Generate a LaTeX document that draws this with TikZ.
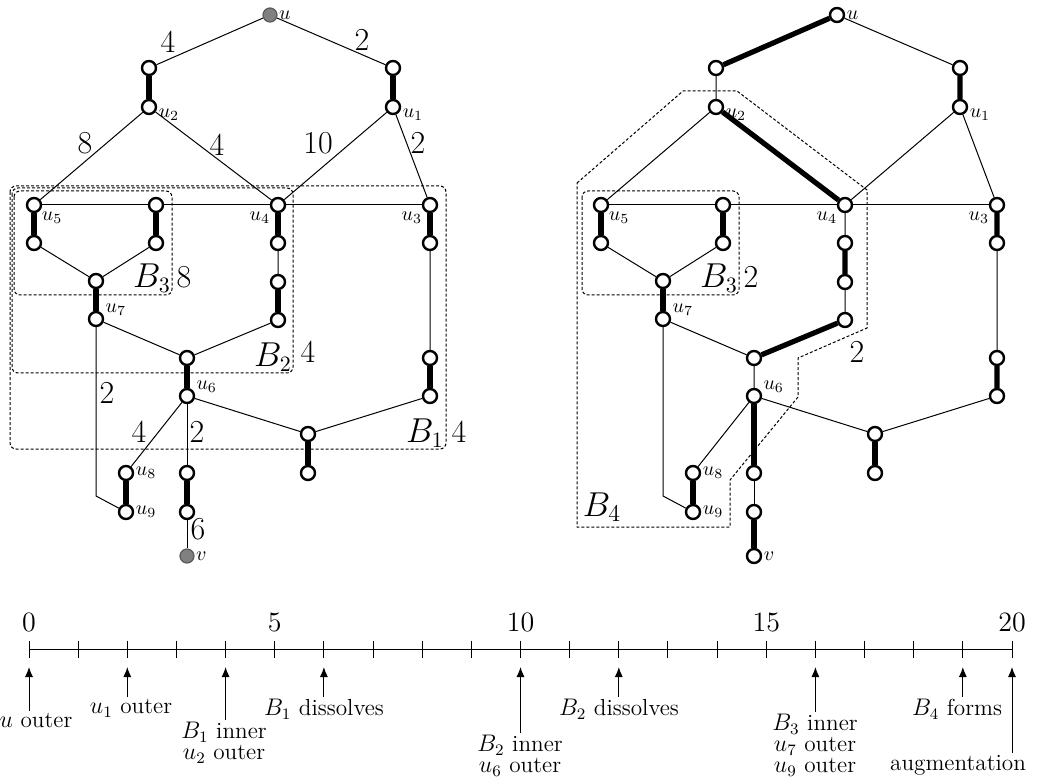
\documentclass[tikz,border=0pt]{standalone}
\usepackage{amsmath}
\usepackage{tikz}
\usetikzlibrary{arrows.meta, calc}

\begin{document}
\begin{tikzpicture}[
  x=0.5pt, y=-0.5pt,
  vtx/.style={circle, draw, fill=white, line width=1.2pt,
              minimum size=7pt, inner sep=0pt},
  src/.style={vtx, fill=black!50, draw=black!65, line width=0.6pt},
  thinedge/.style={line width=0.5pt},
  matched/.style={line width=2.6pt},
  wt/.style={font=\fontsize{16}{18}\selectfont, inner sep=0pt},
  blossom/.style={dash pattern=on 1.5pt off 1pt, line width=0.5pt},
  every label/.style={font=\normalsize, inner sep=0.6pt},
  label distance=0pt,
  tarr/.style={-{Latex[length=5pt, width=4pt]}, line width=0.5pt},
  ev/.style={anchor=north, align=center, inner sep=1pt,
             font=\fontsize{11.6}{10.5}\selectfont},
]
  \useasboundingbox (0,0) rectangle (1038,780);

  % left graph
  \node[src, label={0:$u$}]      (lu)  at (270,15)  {};
  \node[vtx]                     (lp2) at (149,68)  {};
  \node[vtx, label={-5:$u_2$}]   (lu2) at (149,107) {};
  \node[vtx]                     (lp1) at (393,68)  {};
  \node[vtx, label={-5:$u_1$}]   (lu1) at (393,107) {};
  \node[vtx, label={-40:$u_5$}]  (lu5) at (34,205)  {};
  \node[vtx]                     (lq1) at (156,205) {};
  \node[vtx]                     (lq2) at (34,243)  {};
  \node[vtx]                     (lq3) at (156,243) {};
  \node[vtx]                     (lq4) at (96,281)  {};
  \node[vtx, label={10:$u_7$}]   (lu7) at (96,319)  {};
  \node[vtx, label={-140:$u_4$}] (lu4) at (278,205) {};
  \node[vtx]                     (lc1) at (278,243) {};
  \node[vtx]                     (lc2) at (278,282) {};
  \node[vtx]                     (lc3) at (278,320) {};
  \node[vtx]                     (lm)  at (187,358) {};
  \node[vtx, label={15:$u_6$}]   (lu6) at (187,396) {};
  \node[vtx, label={-140:$u_3$}] (lu3) at (430,205) {};
  \node[vtx]                     (ld1) at (430,243) {};
  \node[vtx]                     (ld2) at (430,358) {};
  \node[vtx]                     (ld3) at (430,396) {};
  \node[vtx]                     (le1) at (308,434) {};
  \node[vtx]                     (le2) at (308,473) {};
  \node[vtx, label={0:$u_8$}]    (lu8) at (126,473) {};
  \node[vtx, label={0:$u_9$}]    (lu9) at (126,512) {};
  \node[vtx]                     (lf1) at (187,473) {};
  \node[vtx]                     (lf2) at (187,512) {};
  \node[src, label={0:$v$}]      (lv)  at (187,556) {};
  \coordinate (lk) at (96,496);

  \draw[thinedge] (lu) -- (lp2) (lu) -- (lp1);
  \draw[thinedge] (lu2) -- (lu5) (lu2) -- (lu4) (lu1) -- (lu4) (lu1) -- (lu3);
  \draw[thinedge] (lu5) -- (lq1) (lq1) -- (lu4) (lu4) -- (lu3);
  \draw[thinedge] (lq2) -- (lq4) (lq3) -- (lq4) (lc1) -- (lc2);
  \draw[thinedge] (lu7) -- (lm) (lc3) -- (lm) (ld1) -- (ld2);
  \draw[thinedge] (lu6) -- (le1) (le1) -- (ld3) (lu6) -- (lu8);
  \draw[thinedge] (lu7) -- (lk) -- (lu9);
  \draw[thinedge] (lu6) -- (lf1) (lf2) -- (lv);

  \draw[matched] (lp2) -- (lu2) (lp1) -- (lu1) (lu5) -- (lq2) (lq1) -- (lq3);
  \draw[matched] (lq4) -- (lu7) (lu4) -- (lc1) (lc2) -- (lc3) (lm) -- (lu6);
  \draw[matched] (lu3) -- (ld1) (ld2) -- (ld3) (le1) -- (le2);
  \draw[matched] (lu8) -- (lu9) (lf1) -- (lf2);

  \node[wt] (lw1)  at (168,42)  {4};
  \node[wt] (lw2)  at (362,40)  {2};
  \node[wt] (lw3)  at (85,143)  {8};
  \node[wt] (lw4)  at (217,145) {4};
  \node[wt] (lw5)  at (318,143) {10};
  \node[wt] (lw6)  at (418,143) {2};
  \node[wt] (lw7)  at (107,393) {2};
  \node[wt] (lw8)  at (139,432) {4};
  \node[wt] (lw9)  at (197,432) {2};
  \node[wt] (lw10) at (198,529) {6};

  \draw[blossom, rounded corners=3pt] (10,186) rectangle (446,449);
  \draw[blossom, rounded corners=3pt] (12,188) rectangle (293,373);
  \draw[blossom, rounded corners=3pt] (14,191) rectangle (172,295);
  \node[wt] (lb3)  at (152,278) {$B_3$};
  \node[wt] (lb3z) at (184,277) {8};
  \node[wt] (lb2)  at (273,357) {$B_2$};
  \node[wt] (lb2z) at (308,352) {4};
  \node[wt] (lb1)  at (425,433) {$B_1$};
  \node[wt] (lb1z) at (459,432) {4};

  % right graph
  \node[vtx, label={0:$u$}]      (ru)  at (837,15)  {};
  \node[vtx]                     (rp2) at (716,68)  {};
  \node[vtx, label={-5:$u_2$}]   (ru2) at (716,107) {};
  \node[vtx]                     (rp1) at (960,68)  {};
  \node[vtx, label={-5:$u_1$}]   (ru1) at (960,107) {};
  \node[vtx, label={-40:$u_5$}]  (ru5) at (601,205) {};
  \node[vtx]                     (rq1) at (723,205) {};
  \node[vtx]                     (rq2) at (601,243) {};
  \node[vtx]                     (rq3) at (723,243) {};
  \node[vtx]                     (rq4) at (663,281) {};
  \node[vtx, label={10:$u_7$}]   (ru7) at (663,319) {};
  \node[vtx, label={-140:$u_4$}] (ru4) at (845,205) {};
  \node[vtx]                     (rc1) at (845,243) {};
  \node[vtx]                     (rc2) at (845,282) {};
  \node[vtx]                     (rc3) at (845,320) {};
  \node[vtx]                     (rm)  at (754,358) {};
  \node[vtx, label={15:$u_6$}]   (ru6) at (754,396) {};
  \node[vtx, label={-140:$u_3$}] (ru3) at (997,205) {};
  \node[vtx]                     (rd1) at (997,243) {};
  \node[vtx]                     (rd2) at (997,358) {};
  \node[vtx]                     (rd3) at (997,396) {};
  \node[vtx]                     (re1) at (875,434) {};
  \node[vtx]                     (re2) at (875,473) {};
  \node[vtx, label={0:$u_8$}]    (ru8) at (693,473) {};
  \node[vtx, label={0:$u_9$}]    (ru9) at (693,512) {};
  \node[vtx]                     (rf1) at (754,473) {};
  \node[vtx]                     (rf2) at (754,512) {};
  \node[vtx, label={0:$v$}]      (rv)  at (754,556) {};
  \coordinate (rk) at (663,496);

  \draw[thinedge] (ru) -- (rp1) (rp2) -- (ru2);
  \draw[thinedge] (ru2) -- (ru5) (ru1) -- (ru4) (ru1) -- (ru3);
  \draw[thinedge] (ru5) -- (rq1) (rq1) -- (ru4) (ru4) -- (ru3);
  \draw[thinedge] (rq2) -- (rq4) (rq3) -- (rq4) (ru4) -- (rc1) (rc2) -- (rc3);
  \draw[thinedge] (ru7) -- (rm) (rm) -- (ru6) (rd1) -- (rd2);
  \draw[thinedge] (ru6) -- (re1) (re1) -- (rd3) (ru6) -- (ru8);
  \draw[thinedge] (ru7) -- (rk) -- (ru9);
  \draw[thinedge] (rf1) -- (rf2);

  \draw[matched] (ru) -- (rp2) (rp1) -- (ru1) (ru2) -- (ru4);
  \draw[matched] (ru5) -- (rq2) (rq1) -- (rq3) (rq4) -- (ru7);
  \draw[matched] (rc1) -- (rc2) (rc3) -- (rm) (ru3) -- (rd1) (rd2) -- (rd3);
  \draw[matched] (re1) -- (re2) (ru8) -- (ru9) (ru6) -- (rf1) (rf2) -- (rv);

  \draw[blossom, rounded corners=3pt] (582,191) rectangle (739,295);
  \draw[blossom] (577,183) -- (683,91) -- (737,91) -- (867,190) -- (867,328)
    -- (798,358) -- (798,397) -- (730,480) -- (730,527) -- (577,527) -- cycle;
  \node[wt] (rb3)  at (719,278) {$B_3$};
  \node[wt] (rb3z) at (751,277) {2};
  \node[wt] (rb4z) at (857,352) {2};
  \node[wt, font=\LARGE] (rb4) at (602,507) {$B_4$};

  % time line
  \foreach \i in {0,...,20}
    \coordinate (t\i) at ({29+49.15*\i},649);
  \draw[line width=0.5pt] (t0) -- (t20);
  \foreach \i in {0,...,20}
    \draw[line width=0.5pt] ([yshift=4.25pt]t\i) -- ([yshift=-4.25pt]t\i);
  \foreach \i in {0,5,10,15,20}
    \node[font=\fontsize{14}{16}\selectfont] (n\i) at ([yshift=13.5pt]t\i) {\i};

  \node[ev] (e0)  at (36,711)  {$u$ outer};
  \node[ev] (e2)  at (131,697) {$u_1$ outer};
  \node[ev] (e4)  at (224,720) {$B_1$ inner\\$u_2$ outer};
  \node[ev] (e6)  at (324,697) {$B_1$ dissolves};
  \node[ev] (e10) at (520,733) {$B_2$ inner\\$u_6$ outer};
  \node[ev] (e12) at (619,697) {$B_2$ dissolves};
  \node[ev] (e16) at (815,712) {$B_3$ inner\\$u_7$ outer\\$u_9$ outer};
  \node[ev] (e19) at (957,697) {$B_4$ forms};
  \node[ev] (e20) at (958,753) {augmentation};

  \draw[tarr] (t0 |- e0.north)   -- ([yshift=-9pt]t0);
  \draw[tarr] (t2 |- e2.north)   -- ([yshift=-9pt]t2);
  \draw[tarr] (t4 |- e4.north)   -- ([yshift=-9pt]t4);
  \draw[tarr] (t6 |- e6.north)   -- ([yshift=-9pt]t6);
  \draw[tarr] (t10 |- e10.north) -- ([yshift=-9pt]t10);
  \draw[tarr] (t12 |- e12.north) -- ([yshift=-9pt]t12);
  \draw[tarr] (t16 |- e16.north) -- ([yshift=-9pt]t16);
  \draw[tarr] (t19 |- e19.north) -- ([yshift=-9pt]t19);
  \draw[tarr] (t20 |- e20.north) -- ([yshift=-9pt]t20);
\end{tikzpicture}
\end{document}
